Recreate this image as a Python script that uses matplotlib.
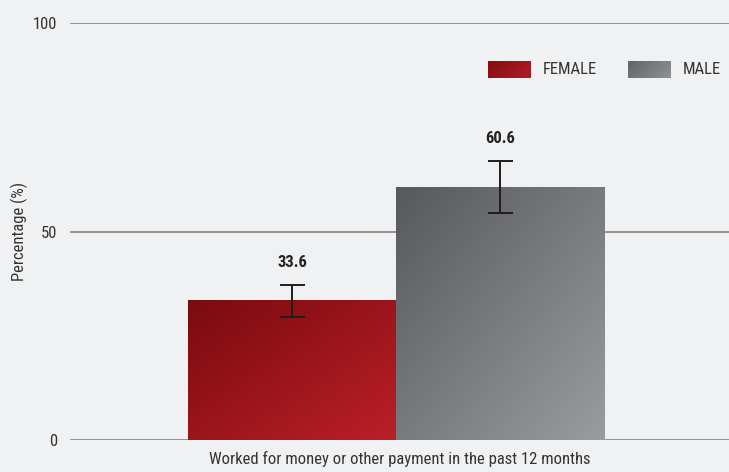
import numpy as np
import matplotlib
matplotlib.use('Agg')
import matplotlib.pyplot as plt
from matplotlib import font_manager

# Данные
category = 'Worked for money or other payment in the past 12 months'
groups = ['FEMALE', 'MALE']
values = [33.6, 60.6]
err_low = [29.5, 54.4]
err_high = [37.2, 66.9]

# Ищем узкий шрифт, если он есть
family, stretch = 'Liberation Sans', 'normal'
names = {f.name for f in font_manager.fontManager.ttflist}
for cand in ['Roboto Condensed', 'Liberation Sans Narrow', 'Open Sans Condensed',
             'DejaVu Sans Condensed', 'Arial Narrow']:
    if cand in names:
        family = cand
        break
else:
    for f in font_manager.fontManager.ttflist:
        if 'condensed' in str(f.stretch) and f.name in ('DejaVu Sans', 'Roboto', 'Open Sans', 'Noto Sans'):
            family, stretch = f.name, 'condensed'
            break

plt.rcParams['font.family'] = [family, 'DejaVu Sans']
plt.rcParams['font.stretch'] = stretch
narrow = family != 'Liberation Sans' or stretch != 'normal'
fs = 12 if narrow else 11

bg = '#f0f1f3'
grads = {
    'FEMALE': ('#7a0b10', '#bb1f28'),
    'MALE': ('#58595c', '#9a9b9e'),
}


def hex2rgb(h):
    return np.array([int(h[i:i + 2], 16) / 255 for i in (1, 3, 5)])


def gradient_img(c1, c2, n=64):
    a, b = hex2rgb(c1), hex2rgb(c2)
    xx, yy = np.meshgrid(np.linspace(0, 1, n), np.linspace(0, 1, n))
    t = (xx + yy) / 2  # сверху-слева темнее
    return a[None, None, :] * (1 - t[..., None]) + b[None, None, :] * t[..., None]


fig = plt.figure(figsize=(7.29, 4.72), dpi=100, facecolor=bg)
ax = fig.add_axes([70 / 729, 32 / 472, 659 / 729, 417 / 472])
ax.set_facecolor(bg)

width = 0.4
xs = [-width / 2, width / 2]

for y in (0, 50, 100):
    ax.axhline(y, color='#8c8c8c', lw=1.3, zorder=1)

for x, g, v, lo, hi in zip(xs, groups, values, err_low, err_high):
    bar = ax.bar(x, v, width=width, color='none', edgecolor='none', zorder=2)[0]
    img = ax.imshow(gradient_img(*grads[g]), extent=[x - width / 2, x + width / 2, 0, v],
                    origin='upper', aspect='auto', zorder=2, interpolation='bilinear')
    img.set_clip_path(bar)
    ax.errorbar(x, v, yerr=[[v - lo], [hi - v]], fmt='none', ecolor='#1e1e1e',
                elinewidth=1.4, capsize=9, capthick=1.4, zorder=3)
    ax.text(x, hi + 3.6, f'{v:.1f}', ha='center', va='bottom', fontsize=fs,
            fontweight='bold', color='#222222')

ax.set_xlim(-0.627, 0.640)
ax.set_ylim(0, 100)

# Легенда с градиентом
leg_items = [(488, 543, 'FEMALE'), (628, 683, 'MALE')]
for px, tx, g in leg_items:
    lax = fig.add_axes([px / 729, (472 - 78) / 472, 43 / 729, 17 / 472])
    lax.imshow(gradient_img(*grads[g])[20:44], aspect='auto', interpolation='bilinear')
    lax.axis('off')
    fig.text(tx / 729, (472 - 70) / 472, g, ha='left', va='center', fontsize=fs,
             color='#333333')

ax.set_yticks([0, 50, 100])
ax.set_yticklabels(['0', '50', '100'], fontsize=fs, color='#333333')
ax.tick_params(axis='y', length=0, pad=9)
ax.set_xticks([])
for s in ax.spines.values():
    s.set_visible(False)

ax.set_ylabel('Percentage (%)', fontsize=fs, color='#333333')
ax.yaxis.set_label_coords(-0.064, 0.5)
ax.set_xlabel(category, fontsize=fs, color='#333333', labelpad=8)

plt.savefig('out.png', dpi=100, facecolor=bg)
